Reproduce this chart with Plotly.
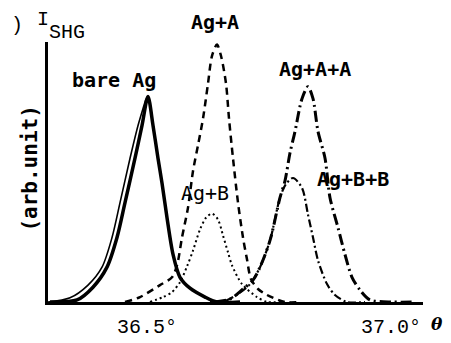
import plotly.graph_objects as go

# ---- data (theta in degrees, I_SHG in arbitrary units) ----
bare_x = [36.3012, 36.3566, 36.3893, 36.4180, 36.4385, 36.4549, 36.4754, 36.4898, 36.5020,
          36.5123, 36.5225, 36.5307, 36.5410, 36.5533, 36.5676, 36.5881, 36.6189, 36.6434, 36.6906]
bare_y = [0.0, 0.8, 5.7, 13.4, 24.8, 38.2, 55.3, 67.9, 79.0,
          67.9, 55.3, 45.8, 32.4, 18.3, 9.5, 5.3, 1.9, 0.0, 0.0]

bare2_x = [36.2971, 36.3422, 36.3791, 36.4078, 36.4283, 36.4447, 36.4652, 36.4816, 36.4980]
bare2_y = [0.0, 1.6, 6.5, 13.4, 24.8, 38.2, 55.3, 67.9, 78.2]

agA_x = [36.4549, 36.4857, 36.5266, 36.5512, 36.5615, 36.5717, 36.5840, 36.5943, 36.6045, 36.6148,
         36.6250, 36.6332, 36.6434, 36.6516, 36.6619, 36.6680, 36.6762, 36.6865, 36.6967, 36.7049,
         36.7131, 36.7275, 36.7459, 36.7828, 36.8135]
agA_y = [0.0, 1.9, 6.5, 9.5, 14.1, 24.8, 36.3, 50.4, 60.3, 70.6,
         84.0, 94.7, 99.0, 94.7, 84.0, 70.6, 55.3, 38.2, 24.8, 16.4,
         8.8, 5.0, 2.7, 0.0, 0.0]

agB_x = [36.5061, 36.5328, 36.5512, 36.5676, 36.5820, 36.5943, 36.6086, 36.6209, 36.6332, 36.6455,
         36.6557, 36.6660, 36.6742, 36.6947, 36.7254, 36.7459, 36.7725]
agB_y = [0.0, 1.9, 3.8, 7.6, 13.7, 19.8, 27.9, 32.4, 34.0, 31.7,
         25.6, 19.1, 14.1, 6.9, 1.9, 0.0, 0.0]

agAA_x = [36.6393, 36.6701, 36.6967, 36.7172, 36.7316, 36.7521, 36.7725, 36.7828, 36.7930, 36.8033,
          36.8176, 36.8299, 36.8402, 36.8504, 36.8648, 36.8750, 36.8914, 36.9057, 36.9201, 36.9365,
          36.9570, 37.0041, 37.0492]
agAA_y = [0.0, 1.1, 5.0, 8.4, 13.4, 23.7, 40.1, 46.6, 57.3, 65.6,
          78.2, 82.8, 78.2, 65.6, 55.3, 40.1, 28.6, 18.3, 9.5, 4.6,
          0.8, 0.0, 0.0]

agBB_x = [36.6291, 36.6598, 36.6865, 36.7111, 36.7316, 36.7521, 36.7725, 36.7848, 36.7992, 36.8176,
          36.8299, 36.8402, 36.8504, 36.8689, 36.8852, 36.9098, 36.9467]
agBB_y = [0.0, 0.4, 3.1, 6.9, 13.4, 23.7, 40.1, 45.4, 47.7, 43.9,
          33.6, 24.8, 16.0, 6.9, 2.7, 0.0, 0.0]

tick_vals = [36.5, 37.0]
tick_text = ["36.5°", "37.0°"]

fig = go.Figure()

def add(x, y, width, dash, name):
    fig.add_trace(go.Scatter(x=x, y=y, mode="lines", name=name, showlegend=False,
                             line=dict(color="black", width=width, dash=dash,
                                       shape="spline", smoothing=0.8)))

add(bare_x, bare_y, 3.5, "solid", "bare Ag")
add(bare2_x, bare2_y, 1.6, "solid", "bare Ag (2)")
add(agA_x, agA_y, 2.5, "7px,5px", "Ag+A")
add(agB_x, agB_y, 2.0, "2px,3px", "Ag+B")
add(agAA_x, agAA_y, 3.0, "11px,4px,2px,4px", "Ag+A+A")
add(agBB_x, agBB_y, 2.2, "8px,3px,2px,3px", "Ag+B+B")

def note(text, x, y, font, xanchor="center", **kw):
    fig.add_annotation(text=text, x=x, y=y, xref="paper", yref="paper", showarrow=False,
                       xanchor=xanchor, yanchor="middle", font=font, **kw)

lab_font = dict(family="DejaVu Sans Mono", size=20, color="black")
note("<b>bare Ag</b>", 0.176, 0.852, lab_font)
note("<b>Ag+A</b>", 0.445, 1.076, lab_font)
note("<b>Ag+A+A</b>", 0.712, 0.897, lab_font)
note("Ag+B", 0.419, 0.418, lab_font)
note("<b>Ag+B+B</b>", 0.813, 0.475, lab_font)

mono = dict(family="Liberation Mono", size=20, color="black")
note("I", -0.013, 1.087, mono)
note("SHG", 0.051, 1.038, mono)
note(")", -0.1040, 1.065, mono, xanchor="left")
note("<b>(arb.unit)</b>", -0.048, 0.513,
     dict(family="DejaVu Sans Mono", size=21, color="black"), textangle=-90)
note("<b><i>θ</i></b>", 1.037, -0.084, dict(family="DejaVu Serif", size=17, color="black"))

fig.update_layout(
    width=451, height=343,
    margin=dict(l=40, r=36, t=34, b=46),
    paper_bgcolor="white", plot_bgcolor="white",
    xaxis=dict(range=[36.2971, 37.0656], showgrid=False, zeroline=False,
               showline=True, linecolor="black", linewidth=2.5,
               tickvals=tick_vals, ticktext=tick_text, ticks="",
               ticklabelstandoff=4,
               tickfont=dict(family="Liberation Mono", size=20, color="black")),
    yaxis=dict(range=[0, 100], showgrid=False, zeroline=False,
               showline=True, linecolor="black", linewidth=3,
               showticklabels=False, ticks=""),
)

fig.write_html("out.html")
